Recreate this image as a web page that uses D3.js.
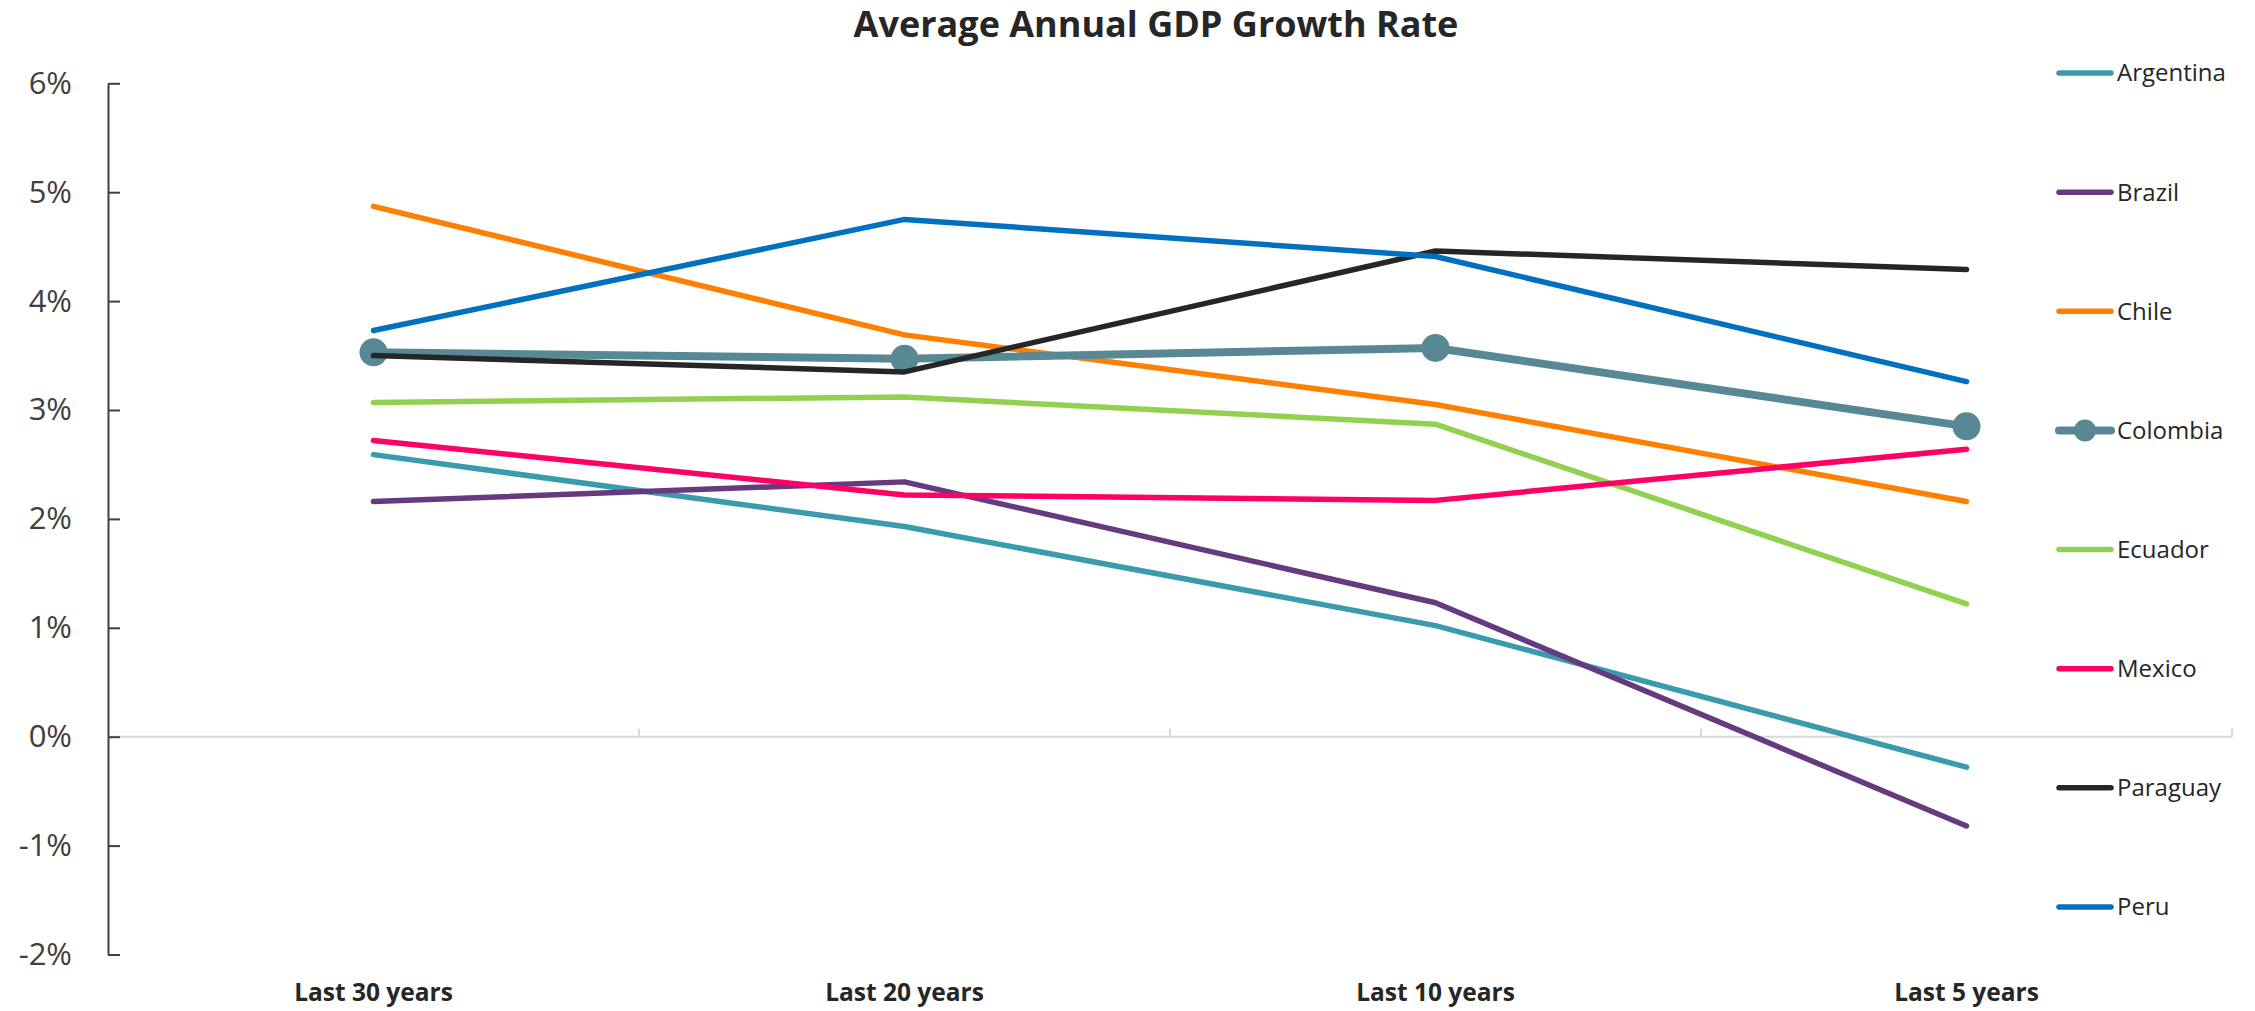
<!DOCTYPE html>
<html>
<head>
<meta charset="utf-8">
<script src="https://cdn.jsdelivr.net/npm/d3@7"></script>
<style>
  html, body { margin: 0; padding: 0; background: #ffffff; }
  svg { display: block; font-family: "Open Sans", "Noto Sans", sans-serif; }
</style>
</head>
<body>
<svg id="chart" width="2255" height="1011"></svg>
<script>
// ---- data ----
const categories = ["Last 30 years", "Last 20 years", "Last 10 years", "Last 5 years"];
const countries = ["Argentina", "Brazil", "Chile", "Colombia", "Ecuador", "Mexico", "Paraguay", "Peru"];
const argentina = [2.59, 1.93, 1.02, -0.28];
const brazil    = [2.16, 2.34, 1.23, -0.82];
const chile     = [4.87, 3.69, 3.05, 2.16];
const colombia  = [3.53, 3.47, 3.57, 2.85];
const ecuador   = [3.07, 3.12, 2.87, 1.22];
const mexico    = [2.72, 2.22, 2.17, 2.64];
const paraguay  = [3.50, 3.35, 4.46, 4.29];
const peru      = [3.73, 4.75, 4.41, 3.26];
const yTicks = [-2, -1, 0, 1, 2, 3, 4, 5, 6];
const colors = ["#3A9BAE", "#653A80", "#FF7F00", "#588893", "#92D050", "#FF0066", "#262626", "#0070C0"];

const seriesValues = [argentina, brazil, chile, colombia, ecuador, mexico, paraguay, peru];
const series = countries.map((name, i) => ({
  name, color: colors[i], values: seriesValues[i], markers: name === "Colombia"
}));

// ---- layout ----
const svg = d3.select("#chart");
const plotLeft = 108, plotRight = 2232, plotTop = 83.3, plotBottom = 954.5;

const x = d3.scaleBand().domain(categories).range([plotLeft, plotRight]);
const cx = c => x(c) + x.bandwidth() / 2;
const y = d3.scaleLinear().domain([-2, 6]).range([plotBottom, plotTop]);

// title
svg.append("text")
  .attr("x", 1156).attr("y", 37)
  .attr("text-anchor", "middle")
  .attr("font-size", 36).attr("font-weight", 700)
  .attr("fill", "#262626")
  .text("Average Annual GDP Growth Rate");

// zero line
const zeroG = svg.append("g");
zeroG.append("line")
  .attr("x1", plotLeft).attr("x2", plotRight)
  .attr("y1", y(0)).attr("y2", y(0))
  .attr("stroke", "#d9d9d9").attr("stroke-width", 2);
categories.forEach(c => {
  const bx = x(c) + x.bandwidth();
  zeroG.append("line")
    .attr("x1", bx).attr("x2", bx)
    .attr("y1", y(0)).attr("y2", y(0) - 8)
    .attr("stroke", "#d9d9d9").attr("stroke-width", 2);
});

// y axis
const yAxis = d3.axisLeft(y)
  .tickValues(yTicks)
  .tickFormat(d => d + "%")
  .tickSizeInner(-12).tickSizeOuter(0).tickPadding(36);
const yg = svg.append("g").attr("transform", `translate(${plotLeft},0)`).call(yAxis);
yg.select(".domain").attr("stroke", "#404040").attr("stroke-width", 2);
yg.selectAll(".tick line").attr("stroke", "#404040").attr("stroke-width", 2);
yg.selectAll(".tick text")
  .attr("font-size", 31).attr("fill", "#404040")
  .attr("font-family", "'Open Sans', sans-serif");

// x labels
svg.append("g").selectAll("text").data(categories).join("text")
  .attr("x", d => cx(d)).attr("y", 1001)
  .attr("text-anchor", "middle")
  .attr("font-size", 24.5).attr("font-weight", 700)
  .attr("fill", "#262626")
  .text(d => d);

// lines
const line = d3.line().x((d, i) => cx(categories[i])).y(d => y(d));
const plot = svg.append("g");
series.forEach(s => {
  const g = plot.append("g");
  g.append("path")
    .attr("d", line(s.values))
    .attr("fill", "none")
    .attr("stroke", s.color)
    .attr("stroke-width", s.markers ? 8 : 5.5)
    .attr("stroke-linecap", "round")
    .attr("stroke-linejoin", "round");
  if (s.markers) {
    g.selectAll("circle").data(s.values).join("circle")
      .attr("cx", (d, i) => cx(categories[i]))
      .attr("cy", d => y(d))
      .attr("r", 14)
      .attr("fill", s.color);
  }
});

// legend
const ly = d3.scalePoint().domain(countries).range([73, 907]);
const lg = svg.append("g");
series.forEach(s => {
  const yy = ly(s.name);
  lg.append("line")
    .attr("x1", 2059).attr("x2", 2111)
    .attr("y1", yy).attr("y2", yy)
    .attr("stroke", s.color)
    .attr("stroke-width", s.markers ? 8 : 5.5)
    .attr("stroke-linecap", "round");
  if (s.markers) {
    lg.append("circle").attr("cx", 2085).attr("cy", yy).attr("r", 11).attr("fill", s.color);
  }
  lg.append("text")
    .attr("x", 2117).attr("y", yy).attr("dy", "0.35em")
    .attr("font-size", 24).attr("fill", "#262626")
    .text(s.name);
});
</script>
</body>
</html>
